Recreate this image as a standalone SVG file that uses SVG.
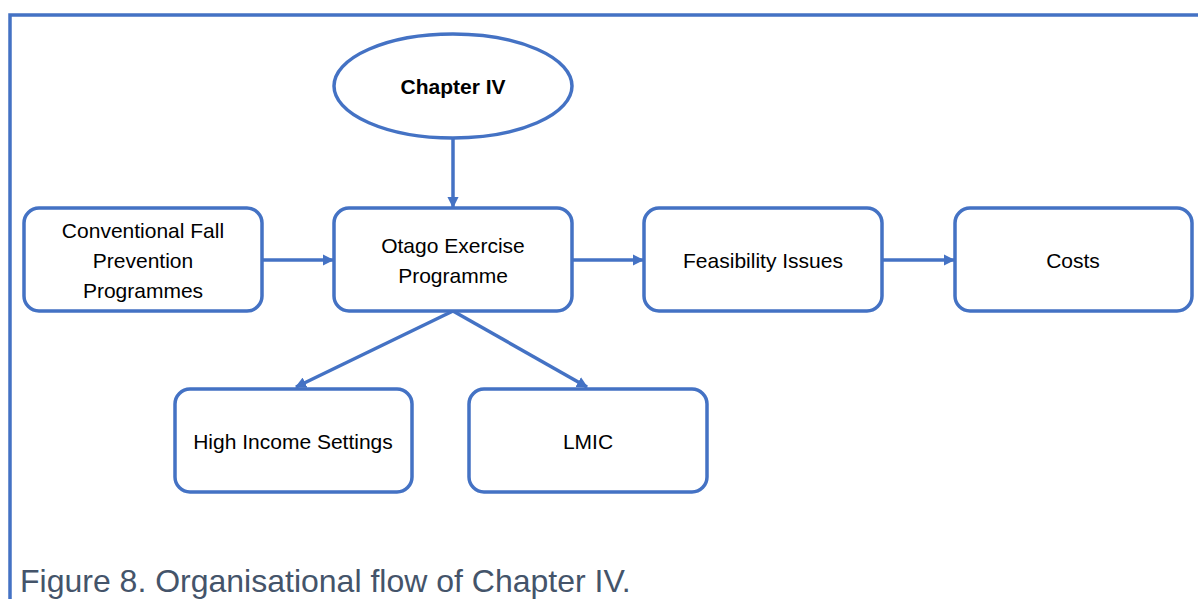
<svg xmlns="http://www.w3.org/2000/svg" width="1198" height="599" viewBox="0 0 1198 599">
  <defs>
    <style>
      .box { fill: #ffffff; stroke: #4472C4; stroke-width: 3.5; }
      .lbl { font-family: "Liberation Sans", Arial, sans-serif; font-size: 21px; fill: #000000; text-anchor: middle; }
      .bold { font-weight: bold; }
      .edge { fill: none; stroke: #4472C4; stroke-width: 3.5; marker-end: url(#arrow); }
      .frame { fill: none; stroke: #4472C4; stroke-width: 3.5; }
      .caption { font-family: "Liberation Sans", Arial, sans-serif; font-size: 32px; fill: #44546A; }
    </style>
    <marker id="arrow" viewBox="0 0 10 10" refX="9" refY="5" markerWidth="3.2" markerHeight="3.2" orient="auto" markerUnits="strokeWidth">
      <path d="M0,0 L10,5 L0,10 Z" fill="#4472C4"/>
    </marker>
  </defs>

  <rect width="1198" height="599" fill="#ffffff"/>

  <!-- outer frame: top and left rules -->
  <path class="frame" d="M10,599 L10,15 L1198,15"/>

  <!-- connectors -->
  <g id="connectors">
    <line class="edge" x1="453" y1="138" x2="453" y2="207"/>
    <line class="edge" x1="262" y1="260" x2="333" y2="260"/>
    <line class="edge" x1="572" y1="260" x2="643" y2="260"/>
    <line class="edge" x1="882" y1="260" x2="954" y2="260"/>
    <line class="edge" x1="453" y1="311" x2="296" y2="387"/>
    <line class="edge" x1="453" y1="311" x2="587" y2="387"/>
  </g>

  <g id="chapter4">
    <ellipse class="box" cx="453" cy="86" rx="119" ry="52"/>
    <text class="lbl bold" x="453" y="94">Chapter IV</text>
  </g>

  <g id="conventional">
    <rect class="box" x="24" y="208" width="238" height="103" rx="15"/>
    <text class="lbl" x="143" y="238">Conventional Fall</text>
    <text class="lbl" x="143" y="268">Prevention</text>
    <text class="lbl" x="143" y="298">Programmes</text>
  </g>

  <g id="otago">
    <rect class="box" x="334" y="208" width="238" height="103" rx="15"/>
    <text class="lbl" x="453" y="253">Otago Exercise</text>
    <text class="lbl" x="453" y="283">Programme</text>
  </g>

  <g id="feasibility">
    <rect class="box" x="644" y="208" width="238" height="103" rx="15"/>
    <text class="lbl" x="763" y="268">Feasibility Issues</text>
  </g>

  <g id="costs">
    <rect class="box" x="955" y="208" width="237" height="103" rx="15"/>
    <text class="lbl" x="1073" y="268">Costs</text>
  </g>

  <g id="high-income">
    <rect class="box" x="175" y="389" width="237" height="103" rx="15"/>
    <text class="lbl" x="293" y="449">High Income Settings</text>
  </g>

  <g id="lmic">
    <rect class="box" x="469" y="389" width="238" height="103" rx="15"/>
    <text class="lbl" x="588" y="449">LMIC</text>
  </g>

  <text class="caption" x="20" y="592">Figure 8. Organisational flow of Chapter IV.</text>
</svg>
